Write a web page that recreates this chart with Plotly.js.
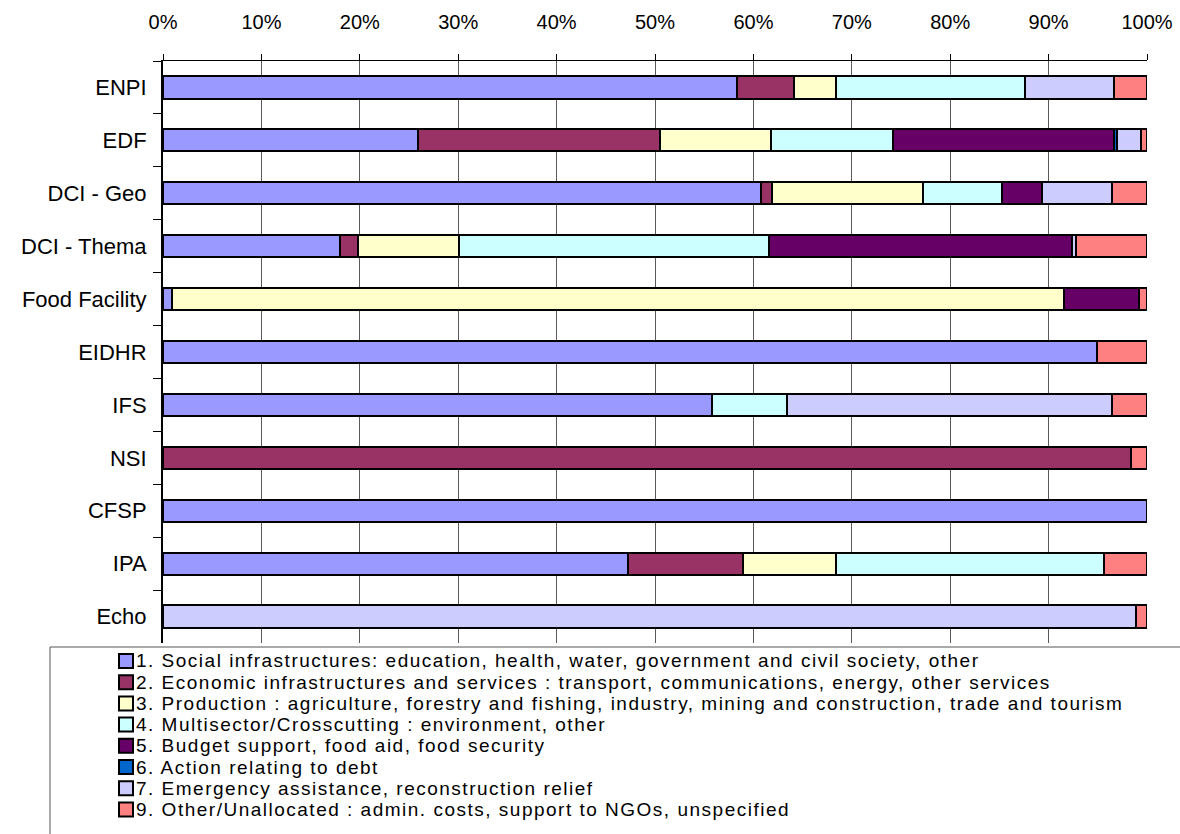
<!DOCTYPE html>
<html>
<head>
<meta charset="utf-8">
<script src="https://cdn.plot.ly/plotly-3.0.1.min.js"></script>
<style>
html,body{margin:0;padding:0;background:#fff;}
#chart{width:1180px;height:834px;}
#chart .annotation-text{letter-spacing:1.5px;}
</style>
</head>
<body>
<div id="chart"></div>
<script>
const categories = ["ENPI","EDF","DCI - Geo","DCI - Thema","Food Facility","EIDHR","IFS","NSI","CFSP","IPA","Echo"];
const seriesNames = [
  "1. Social infrastructures: education, health, water, government and civil society, other",
  "2. Economic infrastructures and services : transport, communications, energy, other services",
  "3. Production : agriculture, forestry and fishing, industry, mining and construction, trade and tourism",
  "4. Multisector/Crosscutting : environment, other",
  "5. Budget support, food aid, food security",
  "6. Action relating to debt",
  "7. Emergency assistance, reconstruction relief",
  "9. Other/Unallocated : admin. costs, support to NGOs, unspecified"
];
// shares in percent, per category (same order as categories)
const s1 = [58.3, 25.9, 60.8, 18.0, 0.9, 94.9, 55.8, 0.0, 100.0, 47.3, 0.0];
const s2 = [5.8, 24.6, 1.1, 1.8, 0.0, 0.0, 0.0, 98.4, 0.0, 11.6, 0.0];
const s3 = [4.3, 11.3, 15.3, 10.3, 90.7, 0.0, 0.0, 0.0, 0.0, 9.5, 0.0];
const s4 = [19.2, 12.4, 8.1, 31.5, 0.0, 0.0, 7.6, 0.0, 0.0, 27.2, 0.0];
const s5 = [0.0, 22.4, 4.0, 30.8, 7.6, 0.0, 0.0, 0.0, 0.0, 0.0, 0.0];
const s6 = [0.0, 0.3, 0.0, 0.0, 0.0, 0.0, 0.0, 0.0, 0.0, 0.0, 0.0];
const s7 = [9.0, 2.5, 7.1, 0.4, 0.0, 0.0, 33.0, 0.0, 0.0, 0.0, 98.9];
const s9 = [3.4, 0.6, 3.6, 7.2, 0.8, 5.1, 3.6, 1.6, 0.0, 4.4, 1.1];
const seriesValues = [s1, s2, s3, s4, s5, s6, s7, s9];
const seriesColors = ["#9999FF","#993366","#FFFFCC","#CCFFFF","#660066","#0066CC","#CCCCFF","#FF8080"];
const xTickVals = [0,10,20,30,40,50,60,70,80,90,100];
const xTickText = ["0%","10%","20%","30%","40%","50%","60%","70%","80%","90%","100%"];

const FONT = "Liberation Sans, Arial, sans-serif";

// plot-area geometry (pixels)
const W = 1180, H = 834;
const M = { l: 163, r: 33, t: 61, b: 191 };
const PW = W - M.l - M.r, PH = H - M.t - M.b;
const px2x = px => (px - M.l) / PW;
const py2y = py => (H - M.b - py) / PH;

const traces = seriesValues.map((vals, i) => ({
  type: "bar",
  orientation: "h",
  name: seriesNames[i],
  y: categories,
  x: vals,
  marker: { color: seriesColors[i], line: { color: "#000000", width: 2 } },
  hoverinfo: "x+y+name"
}));

// legend drawn as text + swatches inside a framed box below the plot
const legendTop = 661, legendStep = 21.2;
const annotations = seriesNames.map((name, i) => ({
  xref: "paper", yref: "paper",
  x: px2x(135), y: py2y(legendTop + legendStep * i),
  xanchor: "left", yanchor: "middle", align: "left",
  text: name, showarrow: false, borderpad: 0,
  font: { family: FONT, size: 19, color: "#000000" }
}));
const shapes = [{
  type: "rect", xref: "paper", yref: "paper",
  x0: px2x(50), x1: px2x(1200), y0: py2y(647), y1: py2y(850),
  line: { color: "#555555", width: 1 }, fillcolor: "rgba(0,0,0,0)", layer: "below"
}];
seriesColors.forEach((c, i) => {
  const cy = legendTop + legendStep * i;
  shapes.push({
    type: "rect", xref: "paper", yref: "paper",
    x0: px2x(119), x1: px2x(133), y0: py2y(cy + 7), y1: py2y(cy - 7),
    line: { color: "#000000", width: 2 }, fillcolor: c
  });
});

const layout = {
  width: W,
  height: H,
  paper_bgcolor: "#ffffff",
  plot_bgcolor: "#ffffff",
  margin: { l: M.l, r: M.r, t: M.t, b: M.b, autoexpand: false },
  barmode: "stack",
  bargap: 0.58,
  font: { family: FONT, size: 18, color: "#000000" },
  xaxis: {
    side: "top",
    range: [0, 100],
    tickvals: xTickVals,
    ticktext: xTickText,
    ticks: "outside",
    ticklen: 6,
    tickcolor: "#000000",
    showline: true,
    linecolor: "#000000",
    linewidth: 1,
    showgrid: true,
    gridcolor: "#5a5a5a",
    gridwidth: 1,
    zeroline: false,
    ticklabelstandoff: 17,
    tickfont: { family: FONT, size: 20, color: "#000000" },
    fixedrange: true
  },
  yaxis: {
    type: "category",
    autorange: "reversed",
    ticks: "outside",
    tickson: "boundaries",
    ticklen: 8,
    tickcolor: "#000000",
    showline: true,
    linecolor: "#000000",
    linewidth: 2,
    showgrid: false,
    zeroline: false,
    ticklabelstandoff: 10,
    tickfont: { family: FONT, size: 22, color: "#000000" },
    fixedrange: true
  },
  showlegend: false,
  annotations: annotations,
  shapes: shapes
};

Plotly.newPlot("chart", traces, layout, { displayModeBar: false });
</script>
</body>
</html>
